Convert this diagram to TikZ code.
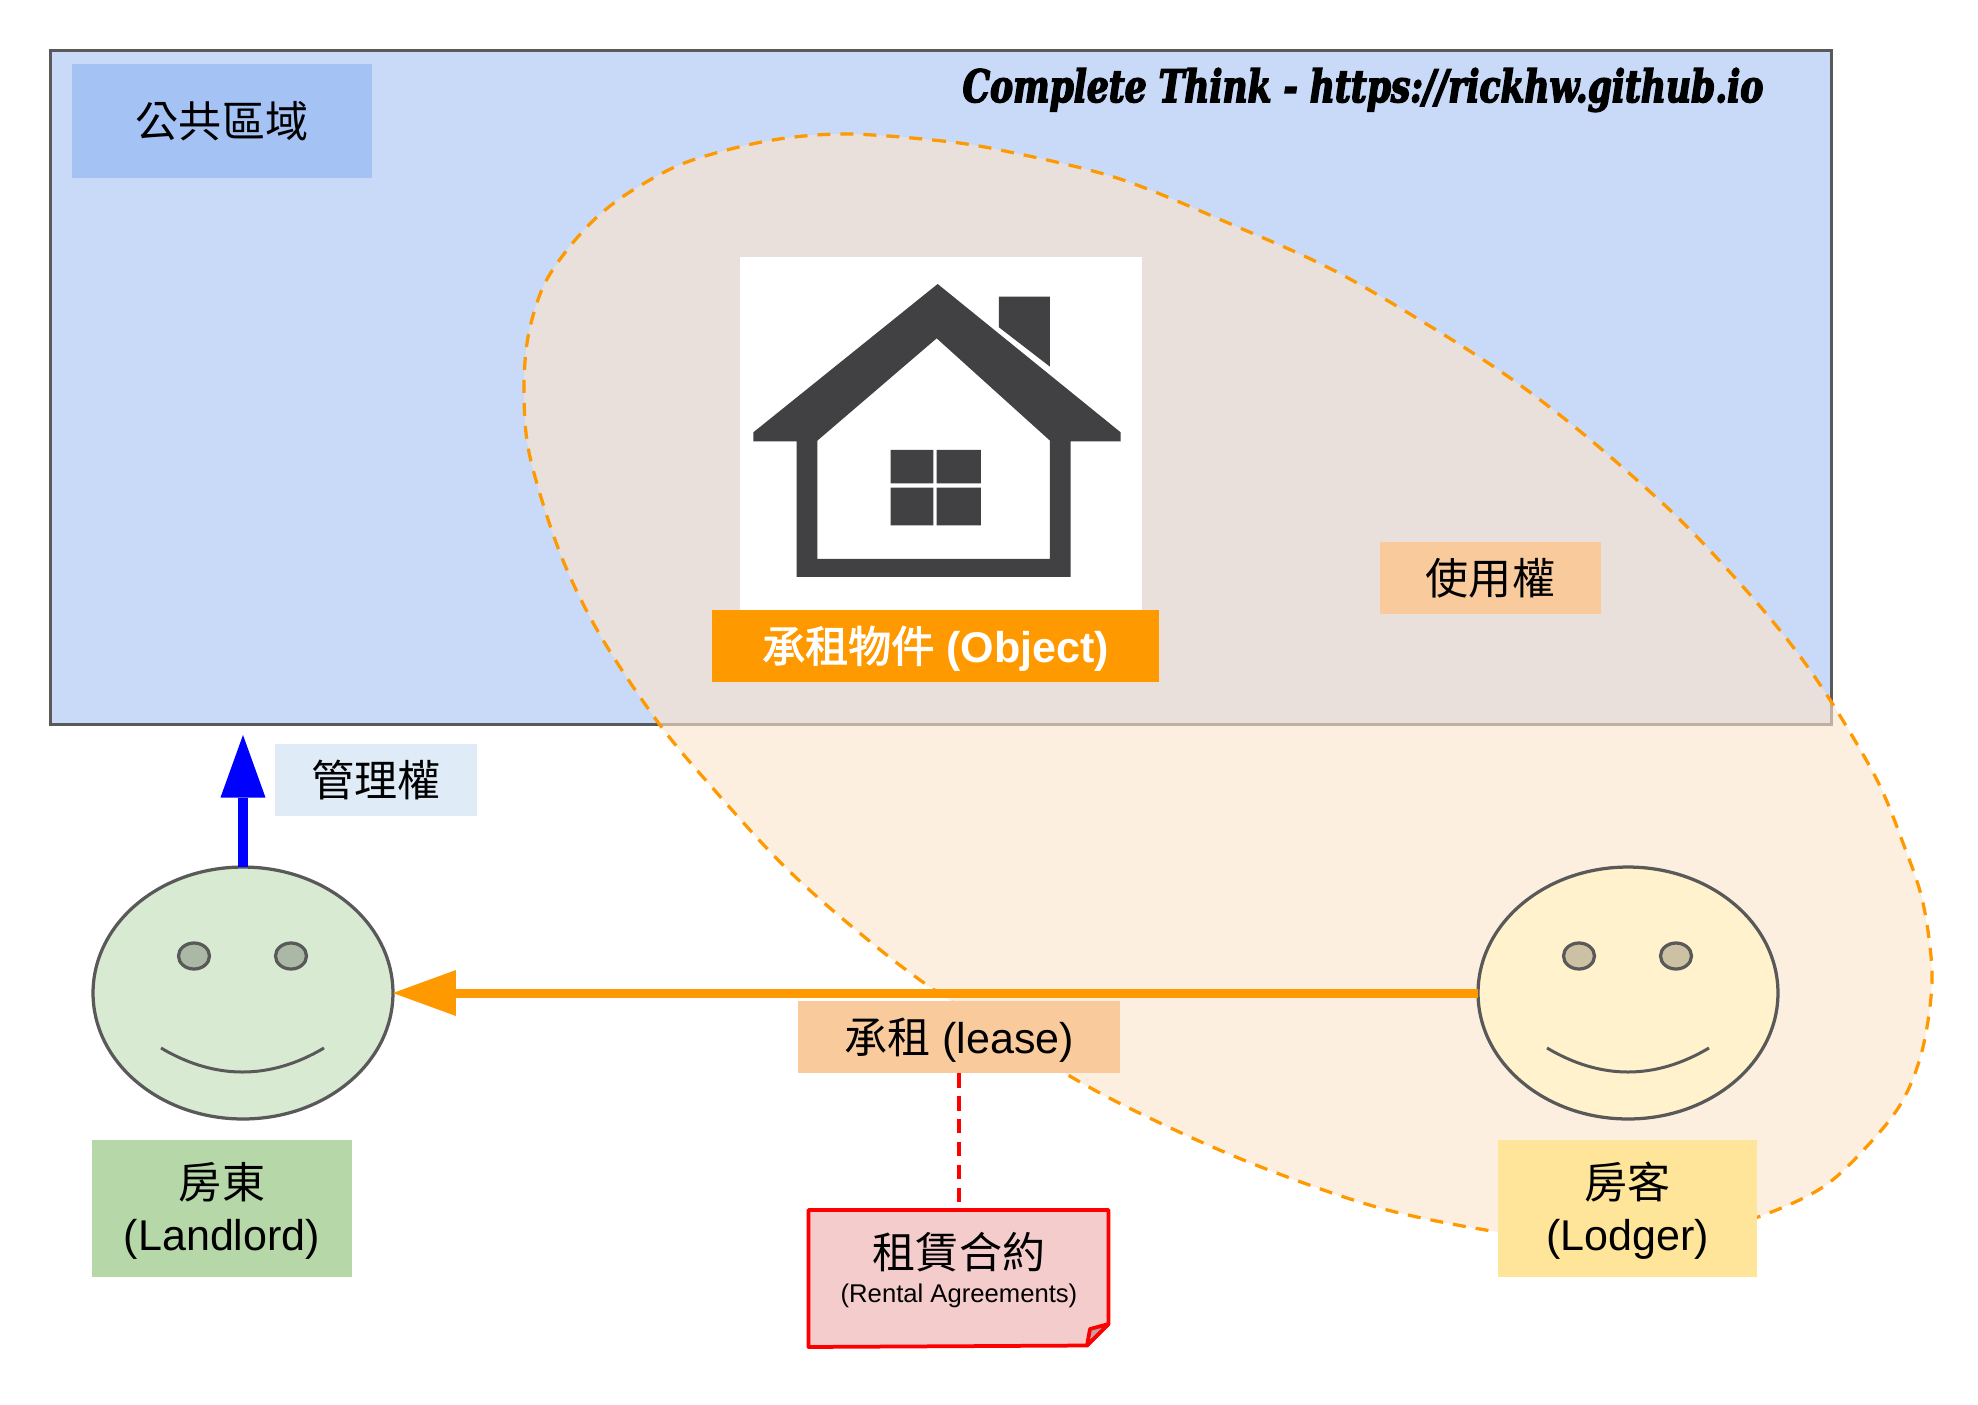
\documentclass[tikz,border=0pt]{standalone}
\usepackage{fontspec}
\usetikzlibrary{shapes.geometric,arrows.meta}
\setmainfont{Liberation Sans}
\newfontfamily\zhfont{Noto Sans CJK TC}
\newfontfamily\zhheavy[FakeBold=2.2]{Noto Sans CJK TC}
\newfontfamily\slabfont[FakeStretch=0.77,FakeBold=3.2]{DejaVu Serif}
\newcommand\zh[1]{{\zhfont #1}}
\definecolor{areablue}{HTML}{C9DAF8}
\definecolor{areabox}{HTML}{A4C2F4}
\definecolor{blobfill}{HTML}{FCE5CD}
\definecolor{lineorange}{HTML}{FF9900}
\definecolor{peach}{HTML}{F9CB9C}
\definecolor{facegray}{HTML}{595959}
\definecolor{housegray}{HTML}{414042}
\definecolor{adminbox}{HTML}{DFEBF7}
\definecolor{greenface}{HTML}{D9EAD3}
\definecolor{greeneye}{HTML}{ABB8A6}
\definecolor{greenbox}{HTML}{B6D7A8}
\definecolor{yellowface}{HTML}{FFF2CC}
\definecolor{yelloweye}{HTML}{CCC2A3}
\definecolor{yellowbox}{HTML}{FFE599}
\definecolor{pinkbox}{HTML}{F4CCCC}
\definecolor{foldgray}{HTML}{C3A3A3}
\tikzset{
  labelbox/.style={rectangle,inner sep=0pt,outer sep=0pt,align=center,text=black,font=\fontsize{24.5}{29.6}\selectfont},
  face/.style={ellipse,draw=facegray,line width=0.065cm,minimum width=6cm,minimum height=5.04cm,inner sep=0pt,outer sep=0pt},
  eye/.style={ellipse,draw=facegray,line width=0.065cm,minimum width=0.62cm,minimum height=0.52cm,inner sep=0pt,outer sep=0pt},
  smile/.style={draw=facegray,line width=0.06cm},
  bluearrow/.style={draw=blue,line width=0.2cm,-{Triangle[length=1.25cm,width=0.9cm,line width=0pt,fill=blue]}},
  leasearrow/.style={draw=lineorange,line width=0.18cm,-{Triangle[length=1.26cm,width=0.92cm,line width=0pt,fill=lineorange]}},
  reddash/.style={draw=red,line width=0.075cm,dash pattern=on 0.29cm off 0.17cm},
  blobshape/.style={fill=blobfill,fill opacity=0.63,draw=lineorange,line width=0.065cm,dash pattern=on 0.26cm off 0.2cm}
}
\begin{document}
\begin{tikzpicture}[x=0.02cm,y=-0.02cm]
\useasboundingbox (0,0) rectangle (1978,1404);
\node[rectangle,fill=areablue,draw=facegray,line width=0.06cm,minimum width=35.64cm,minimum height=13.5cm,inner sep=0pt,outer sep=0pt] (area) at (941,387.5) {};
\draw[blobshape] plot[smooth cycle,tension=0.55] coordinates {
 (843,134) (933,140) (1000,150) (1117,178) (1233,225) (1333,270) (1433,328) (1513,380) (1587,437) (1673,513)
 (1737,580) (1790,643) (1832,703) (1877,780) (1903,843) (1923,903) (1932,977) (1923,1047) (1903,1100) (1870,1143)
 (1823,1187) (1758,1217) (1680,1238) (1600,1243) (1498,1232) (1380,1208) (1261,1167) (1160,1123) (1068,1075)
 (930,987) (850,925) (783,865) (717,793) (660,725) (600,635) (560,553) (530,457) (524,393) (528,337) (543,287)
 (567,250) (597,217) (633,190) (687,162) (767,141)};
\node[labelbox,fill=areabox,minimum width=6cm,minimum height=2.28cm] (public) at (222,121) {\zh{公共區域}};
\node[inner sep=0pt] (title) at (1363,90) {\fontsize{25.5}{30}\slabfont\bfseries\itshape Complete Think - https://rickhw.github.io};
\node[fill=white,minimum width=8.04cm,minimum height=7.06cm,inner sep=0pt,outer sep=0pt] (photo) at (941,433.5) {};
\begin{scope}[shift={(700,230)},x=0.006667cm,y=-0.006667cm]
\fill[housegray,even odd rule] (713,162) -- (1262,607) -- (1262,634) -- (1112,634) -- (1112,1041) -- (290,1041) -- (290,634) -- (160,634) -- (160,607) -- cycle
 (710,325) -- (1050,632) -- (1050,987) -- (352,987) -- (352,632) -- cycle;
\fill[housegray] (897,200) -- (1050,200) -- (1050,410) -- (897,292) -- cycle;
\fill[housegray] (572,660) rectangle (700,760) (710,660) rectangle (843,760) (572,773) rectangle (700,886) (710,773) rectangle (843,886);
\end{scope}
\node[labelbox,fill=lineorange,minimum width=8.94cm,minimum height=1.44cm] (object) at (935.5,646) {};
\node[labelbox,text=white,font=\fontsize{24.5}{29.6}\selectfont\bfseries] (objecttext) at (935.5,648.5) {{\zhheavy\mdseries 承租物件} (Object)};
\node[labelbox,fill=peach,minimum width=4.42cm,minimum height=1.44cm] (userights) at (1490.5,578) {\zh{使用權}};
\node[labelbox,fill=adminbox,minimum width=4.04cm,minimum height=1.44cm] (admin) at (376,780) {\zh{管理權}};
\node[face,fill=greenface] (landlordface) at (243,993) {};
\node[eye,fill=greeneye] (landlordeyeL) at (194,956) {};
\node[eye,fill=greeneye] (landlordeyeR) at (291,956) {};
\draw[smile] (161,1048) .. controls (215,1080) and (270,1080) .. (324,1048);
\node[face,fill=yellowface] (lodgerface) at (1628,993) {};
\node[eye,fill=yelloweye] (lodgereyeL) at (1579,956) {};
\node[eye,fill=yelloweye] (lodgereyeR) at (1676,956) {};
\draw[smile] (1547,1048) .. controls (1601,1080) and (1655,1080) .. (1709,1048);
\coordinate (admintip) at (243,735);
\draw[bluearrow] (landlordface.north) -- (admintip);
\draw[leasearrow] (lodgerface.west) -- (landlordface.east);
\node[labelbox,fill=greenbox,minimum width=5.2cm,minimum height=2.74cm] (landlord) at (222,1208.5) {};
\node[labelbox] (landlordtext) at (222,1211) {\zh{房東}\\(Landlord)};
\node[labelbox,fill=yellowbox,minimum width=5.18cm,minimum height=2.74cm] (lodger) at (1627.5,1208.5) {};
\node[labelbox] (lodgertext) at (1627.5,1211) {\zh{房客}\\(Lodger)};
\node[labelbox,fill=peach,minimum width=6.44cm,minimum height=1.44cm] (lease) at (959,1037) {};
\node[labelbox] (leasetext) at (959,1040) {\zh{承租} (lease)};
\node[minimum width=6cm,minimum height=2.74cm,inner sep=0pt,outer sep=0pt] (contract) at (958.5,1278.5) {};
\draw[reddash] (lease.south) -- (lease.south |- contract.north);
\filldraw[fill=pinkbox,draw=red,line width=0.075cm,line join=round] (contract.north west) -- (contract.north east) -- (1108.5,1324) -- (1087,1345.5) -- (contract.south west) -- cycle;
\filldraw[fill=foldgray,draw=red,line width=0.075cm,line join=round] (1108.5,1324) -- (1090,1329) -- (1087,1345.5) -- cycle;
\node[labelbox] (contractname) at (959,1252) {\zh{租賃合約}};
\node[labelbox,font=\fontsize{14.6}{17}\selectfont] (contractsub) at (959,1295.5) {(Rental Agreements)};
\end{tikzpicture}
\end{document}
